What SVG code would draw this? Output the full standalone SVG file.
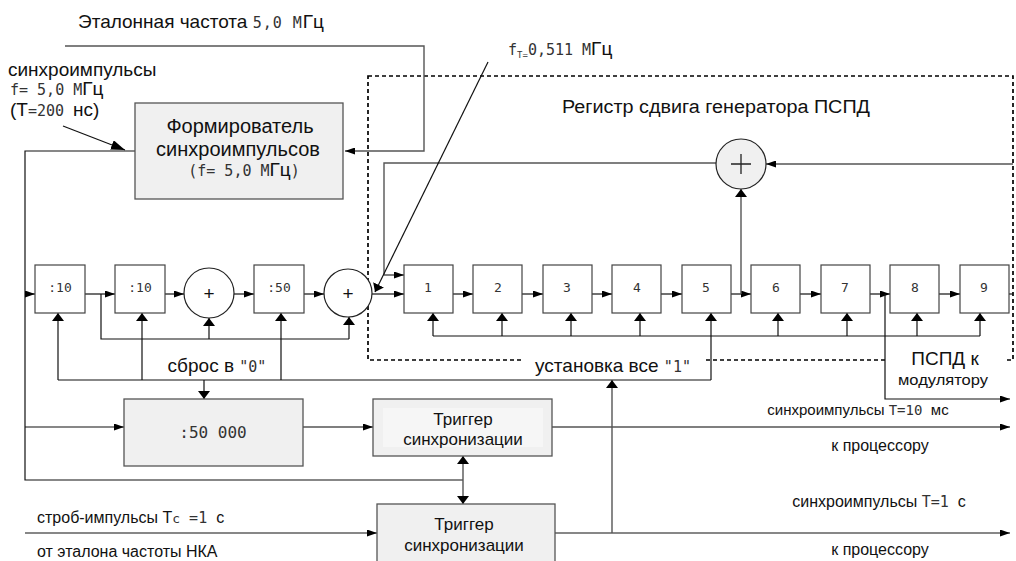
<svg xmlns="http://www.w3.org/2000/svg" width="1016" height="561" viewBox="0 0 1016 561">
<style>
.s{font-family:"Liberation Sans",Arial,sans-serif;fill:#111}
.m{font-family:"DejaVu Sans Mono","Liberation Mono",monospace;fill:#333}
.bx{fill:#fff;stroke:#444;stroke-width:1.2}
.bg{fill:#f0f0f0;stroke:#555;stroke-width:1.3}
.ln{fill:none;stroke:#111;stroke-width:1.2}
.gl{fill:none;stroke:#555;stroke-width:1.4}
</style>
<defs>
<marker id="a" viewBox="0 0 10 7" refX="10" refY="3.5" markerWidth="10" markerHeight="7" markerUnits="userSpaceOnUse" orient="auto"><path d="M0,0L10,3.5L0,7z" fill="#000"/></marker>
<marker id="b" viewBox="0 0 14 10" refX="14" refY="5" markerWidth="14" markerHeight="10" markerUnits="userSpaceOnUse" orient="auto"><path d="M0,0L14,5L0,10z" fill="#000"/></marker>
<marker id="c" viewBox="0 0 8 16" refX="8" refY="8" markerWidth="8" markerHeight="16" markerUnits="userSpaceOnUse" orient="auto"><path d="M0,2L8,8L0,14z" fill="#000"/></marker>
</defs>
<rect width="1016" height="561" fill="#fff"/>

<g id="register-frame">
<rect x="368" y="76" width="645" height="284" fill="none" stroke="#000" stroke-width="1.7" stroke-dasharray="4,3"/>
<text class="s" x="562" y="113" font-size="18" textLength="308" lengthAdjust="spacingAndGlyphs">Регистр сдвига генератора ПСПД</text>
</g>

<g id="connectors">
<polyline class="gl" points="65,46 424,46 424,151 345,151" marker-end="url(#a)"/>
<line class="ln" x1="63" y1="126" x2="125" y2="150" marker-end="url(#b)"/>
<polyline class="ln" points="135,151 25,151 25,480 463,480"/>
<line class="ln" x1="25" y1="294" x2="35" y2="294" marker-end="url(#a)"/>
<line class="ln" x1="85" y1="294" x2="115" y2="294" marker-end="url(#a)"/>
<line class="ln" x1="165" y1="294" x2="184" y2="294" marker-end="url(#a)"/>
<line class="ln" x1="234" y1="294" x2="254" y2="294" marker-end="url(#a)"/>
<line class="ln" x1="304" y1="294" x2="324" y2="294" marker-end="url(#a)"/>
<line class="ln" x1="372" y1="294" x2="404" y2="294" marker-end="url(#a)"/>
<polyline class="ln" points="101,294 101,339 349,339"/>
<line class="ln" x1="209" y1="339" x2="209" y2="318" marker-end="url(#c)"/>
<line class="ln" x1="349" y1="339" x2="349" y2="317" marker-end="url(#c)"/>
<line class="ln" x1="58" y1="380" x2="711" y2="380"/>
<line class="ln" x1="58" y1="380" x2="58" y2="313" marker-end="url(#c)"/>
<line class="ln" x1="142" y1="380" x2="142" y2="313" marker-end="url(#c)"/>
<line class="ln" x1="281" y1="380" x2="281" y2="313" marker-end="url(#c)"/>
<line class="ln" x1="204" y1="380" x2="204" y2="399" marker-end="url(#c)"/>
<line class="ln" x1="711" y1="380" x2="711" y2="313" marker-end="url(#c)"/>
<line class="ln" x1="433" y1="336" x2="980" y2="336"/>
<line class="ln" x1="433" y1="336" x2="433" y2="313" marker-end="url(#c)"/>
<line class="ln" x1="502" y1="336" x2="502" y2="313" marker-end="url(#c)"/>
<line class="ln" x1="571" y1="336" x2="571" y2="313" marker-end="url(#c)"/>
<line class="ln" x1="640" y1="336" x2="640" y2="313" marker-end="url(#c)"/>
<line class="ln" x1="778" y1="336" x2="778" y2="313" marker-end="url(#c)"/>
<line class="ln" x1="847" y1="336" x2="847" y2="313" marker-end="url(#c)"/>
<line class="ln" x1="917" y1="336" x2="917" y2="313" marker-end="url(#c)"/>
<line class="ln" x1="980" y1="336" x2="980" y2="313" marker-end="url(#c)"/>
<line class="ln" x1="453" y1="294" x2="473" y2="294" marker-end="url(#a)"/>
<line class="ln" x1="522" y1="294" x2="543" y2="294" marker-end="url(#a)"/>
<line class="ln" x1="592" y1="294" x2="612" y2="294" marker-end="url(#a)"/>
<line class="ln" x1="661" y1="294" x2="682" y2="294" marker-end="url(#a)"/>
<line class="ln" x1="731" y1="294" x2="751" y2="294" marker-end="url(#a)"/>
<line class="ln" x1="800" y1="294" x2="821" y2="294" marker-end="url(#a)"/>
<line class="ln" x1="870" y1="294" x2="890" y2="294" marker-end="url(#a)"/>
<line class="ln" x1="939" y1="294" x2="960" y2="294" marker-end="url(#a)"/>
<line class="gl" x1="741" y1="294" x2="741" y2="189" marker-end="url(#c)"/>
<line class="ln" x1="1009" y1="294" x2="1013" y2="294"/>
<line class="gl" x1="1013" y1="164" x2="766" y2="164" marker-end="url(#a)"/>
<polyline class="gl" points="716,163 384,163 384,275 404,275" marker-end="url(#a)"/>
<line class="ln" x1="488" y1="62" x2="375" y2="292" marker-end="url(#c)"/>
<polyline class="ln" points="885,294 885,399 1010,399" marker-end="url(#a)"/>
<line class="ln" x1="25" y1="427" x2="124" y2="427" marker-end="url(#a)"/>
<line class="gl" x1="303" y1="427" x2="373" y2="427" marker-end="url(#a)"/>
<line class="gl" x1="552" y1="427" x2="1010" y2="427" marker-end="url(#a)"/>
<line class="gl" x1="463" y1="466" x2="463" y2="456" marker-end="url(#c)"/>
<line class="gl" x1="463" y1="466" x2="463" y2="504" marker-end="url(#c)"/>
<line class="ln" x1="25" y1="533" x2="377" y2="533" marker-end="url(#a)"/>
<line class="ln" x1="555" y1="533" x2="1010" y2="533" marker-end="url(#a)"/>
<line class="gl" x1="612" y1="533" x2="612" y2="380" marker-end="url(#c)"/>
</g>

<g id="former">
<rect class="bg" x="135" y="103" width="208" height="96"/>
<text class="s" x="240" y="133" font-size="20" text-anchor="middle">Формирователь</text>
<text class="s" x="238" y="156" font-size="20" text-anchor="middle">синхроимпульсов</text>
<text x="244" y="176" text-anchor="middle"><tspan class="m" font-size="15">(f= 5,0 М</tspan><tspan class="s" font-size="19">Гц</tspan><tspan class="m" font-size="15">)</tspan></text>
</g>

<g id="div10a"><rect class="bx" x="35" y="265" width="50" height="48"/><text class="m" x="60" y="292" font-size="13" text-anchor="middle">:10</text></g>
<g id="div10b"><rect class="bx" x="115" y="265" width="50" height="48"/><text class="m" x="140" y="292" font-size="13" text-anchor="middle">:10</text></g>
<g id="sum1"><circle cx="209" cy="293" r="25" fill="#fff" stroke="#222" stroke-width="1.2"/><text class="s" x="209" y="300" font-size="19" text-anchor="middle">+</text></g>
<g id="div50"><rect class="bx" x="254" y="265" width="50" height="48"/><text class="m" x="279" y="292" font-size="13" text-anchor="middle">:50</text></g>
<g id="sum2"><circle cx="348" cy="293" r="24" fill="#fff" stroke="#222" stroke-width="1.2"/><text class="s" x="348" y="300" font-size="19" text-anchor="middle">+</text></g>

<g id="reg1"><rect class="bx" x="404" y="265" width="49" height="48"/><text class="m" x="428" y="292" font-size="13" text-anchor="middle">1</text></g>
<g id="reg2"><rect class="bx" x="473" y="265" width="49" height="48"/><text class="m" x="498" y="292" font-size="13" text-anchor="middle">2</text></g>
<g id="reg3"><rect class="bx" x="543" y="265" width="49" height="48"/><text class="m" x="567" y="292" font-size="13" text-anchor="middle">3</text></g>
<g id="reg4"><rect class="bx" x="612" y="265" width="49" height="48"/><text class="m" x="637" y="292" font-size="13" text-anchor="middle">4</text></g>
<g id="reg5"><rect class="bx" x="682" y="265" width="49" height="48"/><text class="m" x="706" y="292" font-size="13" text-anchor="middle">5</text></g>
<g id="reg6"><rect class="bx" x="751" y="265" width="49" height="48"/><text class="m" x="776" y="292" font-size="13" text-anchor="middle">6</text></g>
<g id="reg7"><rect class="bx" x="821" y="265" width="49" height="48"/><text class="m" x="845" y="292" font-size="13" text-anchor="middle">7</text></g>
<g id="reg8"><rect class="bx" x="890" y="265" width="49" height="48"/><text class="m" x="915" y="292" font-size="13" text-anchor="middle">8</text></g>
<g id="reg9"><rect class="bx" x="960" y="265" width="49" height="48"/><text class="m" x="984" y="292" font-size="13" text-anchor="middle">9</text></g>

<g id="sum3"><circle cx="741" cy="164" r="25" fill="#f0f0f0" stroke="#222" stroke-width="1.2"/><path d="M731,164H751M741,154V174" stroke="#222" stroke-width="1.3"/></g>

<g id="div50000"><rect class="bg" x="124" y="399" width="179" height="67"/><text class="m" x="213" y="438" font-size="16" text-anchor="middle">:50 000</text></g>

<g id="trigger1"><rect class="bg" x="373" y="399" width="179" height="57"/><rect x="383" y="408" width="160" height="39" fill="#f6f6f6"/><text class="s" x="463" y="425" font-size="17" text-anchor="middle">Триггер</text><text class="s" x="463" y="445" font-size="17" text-anchor="middle">синхронизации</text></g>
<g id="trigger2"><rect class="bg" x="377" y="504" width="178" height="60"/><text class="s" x="464" y="530" font-size="17" text-anchor="middle">Триггер</text><text class="s" x="464" y="551" font-size="17" text-anchor="middle">синхронизации</text></g>

<g id="labels">
<text x="78" y="28"><tspan class="s" font-size="19">Эталонная частота </tspan><tspan class="m" font-size="15" letter-spacing="1">5,0 М</tspan><tspan class="s" font-size="19">Гц</tspan></text>
<text class="s" x="8" y="76" font-size="19">синхроимпульсы</text>
<text x="10" y="95"><tspan class="m" font-size="15">f= 5,0 М</tspan><tspan class="s" font-size="19">Гц</tspan></text>
<text x="10" y="116"><tspan class="s" font-size="19">(Т</tspan><tspan class="m" font-size="15">=200 </tspan><tspan class="s" font-size="19">нс)</tspan></text>
<text x="508" y="55"><tspan class="m" font-size="15">f</tspan><tspan class="m" font-size="9" dy="3">T=</tspan><tspan class="m" font-size="15" dy="-3">0,511 М</tspan><tspan class="s" font-size="19">Гц</tspan></text>
<text class="s" x="217" y="372" font-size="19" text-anchor="middle">сброс в <tspan class="m" font-size="15">"0"</tspan></text>
<rect x="522" y="352" width="184" height="22" fill="#fff"/>
<text class="s" x="613" y="372" font-size="19" text-anchor="middle">установка все <tspan class="m" font-size="15">"1"</tspan></text>
<rect x="887" y="346" width="117" height="22" fill="#fff"/>
<text class="s" x="945" y="365" font-size="19" text-anchor="middle">ПСПД к</text>
<text class="s" x="943" y="385" font-size="15" text-anchor="middle" textLength="90" lengthAdjust="spacingAndGlyphs">модулятору</text>
<text x="858" y="415" text-anchor="middle"><tspan class="s" font-size="15">синхроимпульсы </tspan><tspan class="m" font-size="14">T=10 </tspan><tspan class="s" font-size="15">мс</tspan></text>
<text class="s" x="880" y="451" font-size="16" text-anchor="middle">к процессору</text>
<text x="879" y="507" text-anchor="middle"><tspan class="s" font-size="16">синхроимпульсы </tspan><tspan class="m" font-size="15">T=1 </tspan><tspan class="s" font-size="16">с</tspan></text>
<text class="s" x="880" y="555" font-size="16" text-anchor="middle">к процессору</text>
<text x="37" y="523"><tspan class="s" font-size="16">строб-импульсы Т</tspan><tspan class="m" font-size="13">с</tspan><tspan class="m" font-size="15"> =1 </tspan><tspan class="s" font-size="16">с</tspan></text>
<text class="s" x="37" y="557" font-size="16">от эталона частоты НКА</text>
</g>
</svg>
